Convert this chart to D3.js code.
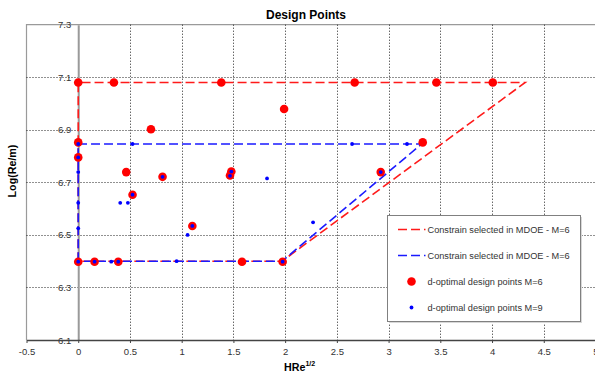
<!DOCTYPE html>
<html>
<head>
<meta charset="utf-8">
<script src="https://cdn.jsdelivr.net/npm/d3@7"></script>
<style>
  body { margin: 0; background: #fff; }
  svg { font-family: "Liberation Sans", Arial, sans-serif; }
  .grid line { stroke: #222; stroke-dasharray: 1,2; }
  .tick-label { fill: #333; font-size: 9.5px; }
</style>
</head>
<body>
<svg id="chart" width="595" height="376"></svg>
<script>
// tick labels
const xTicks = [-0.5, 0, 0.5, 1, 1.5, 2, 2.5, 3, 3.5, 4, 4.5, 5];
const yTicks = [6.1, 6.3, 6.5, 6.7, 6.9, 7.1, 7.3];

// constraint regions (HRe^1/2, Log(Re/m))
const redConstraintX = [0, 0, 4.32, 1.97, 0];
const redConstraintY = [6.4, 7.08, 7.08, 6.4, 6.4];
const blueConstraintX = [0, 0, 3.32, 1.97, 0];
const blueConstraintY = [6.4, 6.846, 6.846, 6.4, 6.4];

// d-optimal design points M=6
const m6X = [0, 0.345, 1.383, 2.672, 3.462, 4.007, 1.99, 0.703, 0, 3.33, 0,
  0.464, 0.815, 1.48, 1.467, 2.924, 0.525, 1.103, 0, 0.158, 0.387, 1.583, 1.976];
const m6Y = [7.08, 7.08, 7.08, 7.08, 7.08, 7.08, 6.979, 6.902, 6.852, 6.852, 6.795,
  6.739, 6.721, 6.741, 6.726, 6.739, 6.653, 6.534, 6.398, 6.398, 6.398, 6.398, 6.398];

// d-optimal design points M=9
const m9X = [0, 0.525, 2.647, 3.178, 0, 0, 0.815, 1.48, 1.467, 1.825, 2.924,
  0, 0.406, 0.48, 0.525, 0, 1.057, 1.103, 2.27,
  0, 0.158, 0.319, 0.387, 0.951, 1.976];
const m9Y = [6.846, 6.846, 6.846, 6.846, 6.795, 6.739, 6.721, 6.741, 6.725, 6.715, 6.739,
  6.622, 6.622, 6.622, 6.653, 6.525, 6.5, 6.534, 6.548,
  6.398, 6.398, 6.398, 6.398, 6.4, 6.398];

const legendLabels = [
  "Constrain selected in MDOE - M=6",
  "Constrain selected in MDOE - M=6",
  "d-optimal design points M=6",
  "d-optimal design points M=9"
];

const svg = d3.select("#chart");
const plot = {left: 26.5, top: 24.7, right: 595.5, bottom: 340};

const x = d3.scaleLinear().domain([-0.5, 5]).range([plot.left, plot.right]);
const y = d3.scaleLinear().domain([6.1, 7.3]).range([plot.bottom, plot.top]);

// plot area border (left + top)
svg.append("path")
  .attr("d", "M" + plot.left + "," + plot.bottom + "V" + plot.top + "H" + 600)
  .attr("fill", "none")
  .attr("stroke", "#9a9a9a")
  .attr("stroke-width", 1.2);

// gridlines
const grid = svg.append("g").attr("class", "grid");
grid.selectAll("line.v")
  .data(xTicks.filter(function(d) { return d > 0; }))
  .enter().append("line").attr("class", "v")
  .attr("x1", function(d) { return Math.round(x(d)) + 0.5; })
  .attr("x2", function(d) { return Math.round(x(d)) + 0.5; })
  .attr("y1", plot.top)
  .attr("y2", plot.bottom);
grid.selectAll("line.h")
  .data(yTicks.filter(function(d) { return d > 6.1 && d < 7.3; }))
  .enter().append("line").attr("class", "h")
  .attr("y1", function(d) { return Math.round(y(d)) + 0.5; })
  .attr("y2", function(d) { return Math.round(y(d)) + 0.5; })
  .attr("x1", plot.left)
  .attr("x2", 600);

// y axis crossing at x = 0
const yAxis = svg.append("g")
  .attr("transform", "translate(" + x(0) + ",0)")
  .call(d3.axisLeft(y).tickValues(yTicks).tickSize(0).tickPadding(7)
    .tickFormat(d3.format(".1f")));
yAxis.select(".domain").attr("stroke", "#9a9a9a").attr("stroke-width", 2);
yAxis.selectAll("text").attr("class", "tick-label").attr("font-family", null)
  .attr("font-size", null).attr("fill", null);

// x axis at bottom
const xAxis = svg.append("g")
  .attr("transform", "translate(0," + plot.bottom + ")")
  .call(d3.axisBottom(x).tickValues(xTicks).tickSize(3).tickSizeOuter(0).tickPadding(5)
    .tickFormat(function(d) { return String(d); }));
xAxis.select(".domain").attr("stroke", "#444").attr("stroke-width", 1.3);
xAxis.selectAll(".tick line").attr("stroke", "#444");
xAxis.selectAll("text").attr("class", "tick-label").attr("font-family", null)
  .attr("font-size", null).attr("fill", null);

// constraint lines
const line = d3.line()
  .x(function(d) { return x(d[0]); })
  .y(function(d) { return y(d[1]); });

svg.append("path")
  .datum(d3.zip(redConstraintX, redConstraintY))
  .attr("d", line)
  .attr("fill", "none")
  .attr("stroke", "#ff1a1a")
  .attr("stroke-width", 1.6)
  .attr("stroke-dasharray", "9,4");

svg.append("path")
  .datum(d3.zip(blueConstraintX, blueConstraintY))
  .attr("d", line)
  .attr("fill", "none")
  .attr("stroke", "#1a1aff")
  .attr("stroke-width", 1.6)
  .attr("stroke-dasharray", "9,4");

// design points
svg.append("g").selectAll("circle")
  .data(d3.zip(m6X, m6Y))
  .enter().append("circle")
  .attr("cx", function(d) { return x(d[0]); })
  .attr("cy", function(d) { return y(d[1]); })
  .attr("r", 4.3)
  .attr("fill", "#ff0000");

svg.append("g").selectAll("circle")
  .data(d3.zip(m9X, m9Y))
  .enter().append("circle")
  .attr("cx", function(d) { return x(d[0]); })
  .attr("cy", function(d) { return y(d[1]); })
  .attr("r", 1.9)
  .attr("fill", "#0000ff");

// titles
svg.append("text")
  .attr("x", 306).attr("y", 19)
  .attr("text-anchor", "middle")
  .attr("font-size", "12px").attr("font-weight", "bold")
  .text("Design Points");

svg.append("text")
  .attr("transform", "translate(16,171) rotate(-90)")
  .attr("text-anchor", "middle")
  .attr("font-size", "10.7px").attr("font-weight", "bold")
  .text("Log(Re/m)");

const xTitle = svg.append("text")
  .attr("x", 284).attr("y", 371)
  .attr("font-size", "10.7px").attr("font-weight", "bold");
xTitle.append("tspan").text("HRe");
xTitle.append("tspan").attr("dy", -5).attr("font-size", "7px").text("1/2");

// legend
const legend = svg.append("g").attr("transform", "translate(387.5,215.5)");
legend.append("rect")
  .attr("x", 1.5).attr("y", 1.5)
  .attr("width", 193).attr("height", 106)
  .attr("fill", "#d8d8d8");
legend.append("rect")
  .attr("width", 193).attr("height", 106)
  .attr("fill", "#fff")
  .attr("stroke", "#808080");

const entries = legend.selectAll("g.entry")
  .data(legendLabels)
  .enter().append("g").attr("class", "entry")
  .attr("transform", function(d, i) { return "translate(0," + (14 + i * 26) + ")"; });

entries.append("text")
  .attr("x", 40).attr("y", 0).attr("dy", "0.35em")
  .attr("font-size", "9.2px").attr("fill", "#333")
  .text(function(d) { return d; });

entries.filter(function(d, i) { return i < 2; })
  .append("line")
  .attr("x1", 10.5).attr("x2", 38)
  .attr("stroke", function(d, i) { return i === 0 ? "#ff1a1a" : "#1a1aff"; })
  .attr("stroke-width", 1.6)
  .attr("stroke-dasharray", "9,4");

entries.filter(function(d, i) { return i === 2; })
  .append("circle").attr("cx", 24).attr("r", 4.3).attr("fill", "#ff0000");
entries.filter(function(d, i) { return i === 3; })
  .append("circle").attr("cx", 24).attr("r", 1.9).attr("fill", "#0000ff");
</script>
</body>
</html>
